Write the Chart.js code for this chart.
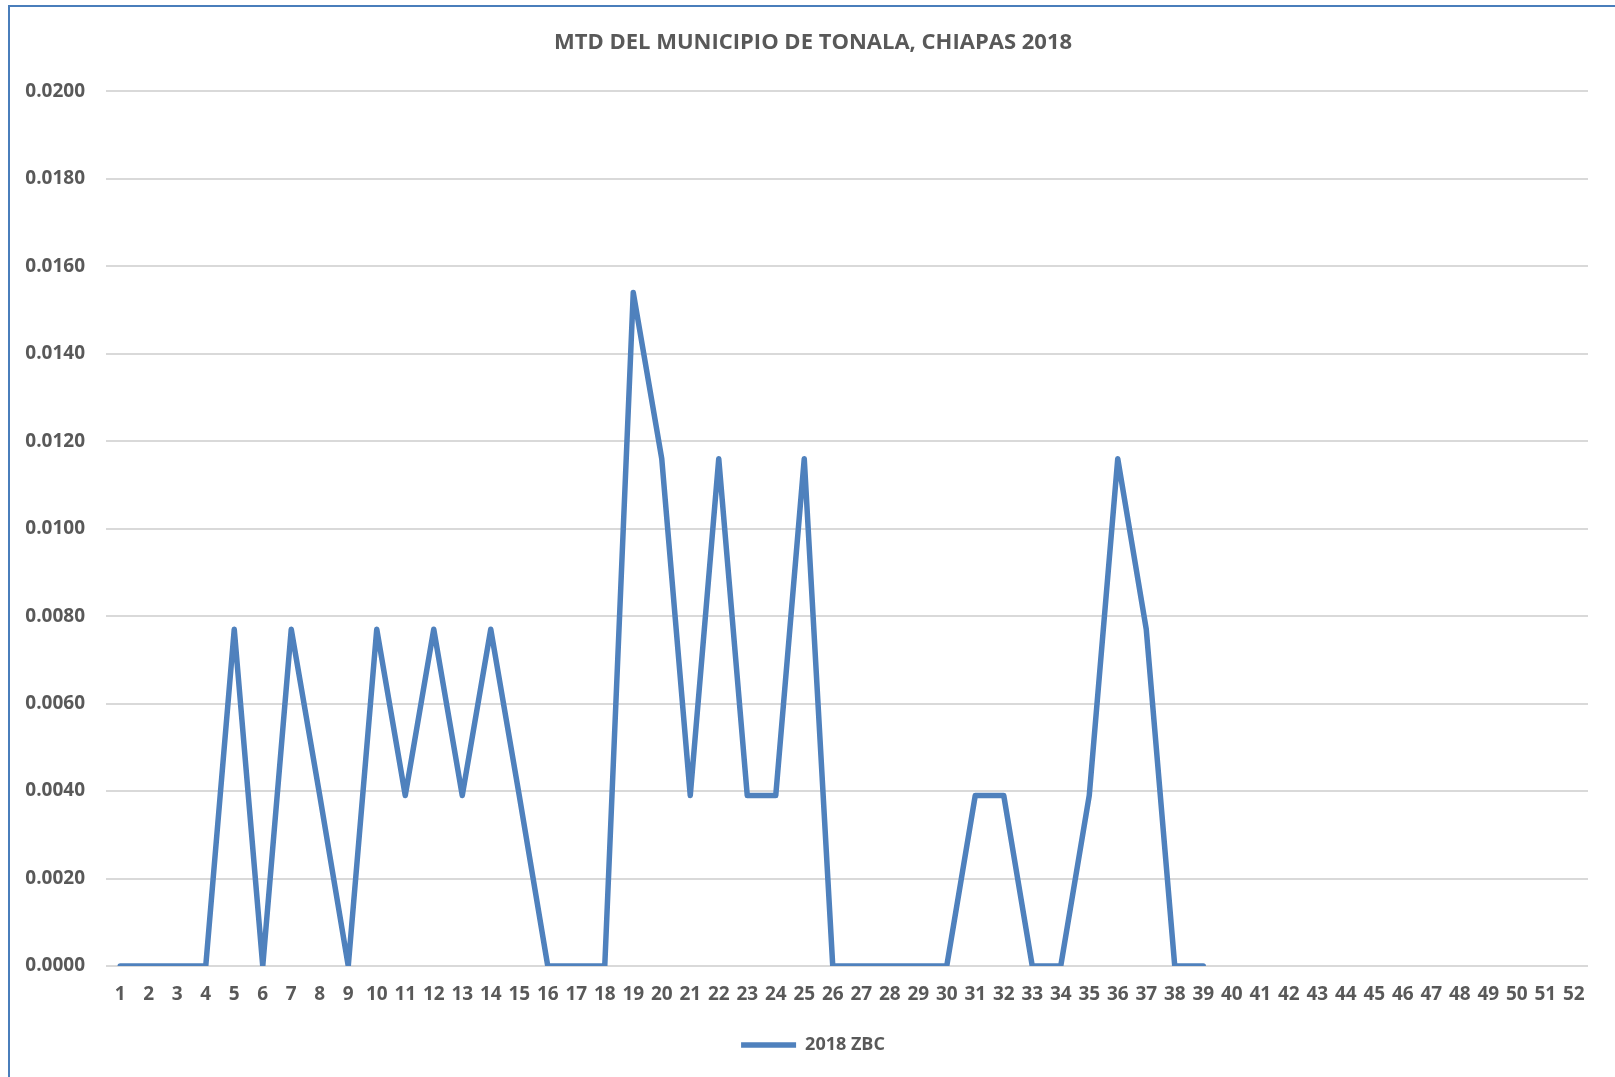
<!DOCTYPE html>
<html>
<head>
<meta charset="utf-8">
<script src="https://cdn.jsdelivr.net/npm/chart.js@4"></script>
<style>
  body { margin: 0; background: #fff; overflow: hidden; }
  #frame { position: absolute; left: 8px; top: 5px; width: 1700px; height: 1200px; border: 2px solid #4a7ebb; }
  #myChart { position: absolute; left: 0; top: 0; }
</style>
</head>
<body>
<div id="frame"></div>
<canvas id="myChart" width="1615" height="1077"></canvas>
<script>
// MTD chart data
const weeks = [];
for (let i = 1; i <= 52; i++) weeks.push(String(i));

const zbc2018 = [0, 0, 0, 0, 0.0077, 0, 0.0077, 0.0039, 0, 0.0077,
                 0.0039, 0.0077, 0.0039, 0.0077, 0.0039, 0, 0, 0, 0.0154, 0.0116,
                 0.0039, 0.0116, 0.0039, 0.0039, 0.0116, 0, 0, 0, 0, 0,
                 0.0039, 0.0039, 0, 0, 0.0039, 0.0116, 0.0077, 0, 0];

const yMin = 0;
const yMax = 0.02;
const yStep = 0.002;

const textColor = '#595959';
const fontFamily = '"Open Sans", Lato, sans-serif';

// nudge title + legend a bit right, like the excel original
const shiftBlocks = {
    id: 'shiftBlocks',
    afterLayout(chart) {
        if (chart.titleBlock) chart.titleBlock.left += 38;
        if (chart.legend) chart.legend.left += 38;
    }
};

var ctx = document.getElementById('myChart').getContext('2d');

var myChart = new Chart(ctx, {
    type: 'line',
    data: {
        labels: weeks,
        datasets: [{
            label: '2018 ZBC',
            data: zbc2018,
            borderColor: '#4f81bd',
            backgroundColor: '#4f81bd',
            borderWidth: 5.5,
            borderCapStyle: 'round',
            borderJoinStyle: 'round',
            pointRadius: 0,
            tension: 0,
            fill: false
        }]
    },
    options: {
        responsive: false,
        animation: false,
        layout: { padding: { left: 0, right: 27, top: 0, bottom: 13 } },
        plugins: {
            title: {
                display: true,
                text: 'MTD DEL MUNICIPIO DE TONALA, CHIAPAS 2018',
                color: textColor,
                font: { family: fontFamily, size: 22, weight: 'bold' },
                padding: { top: 30, bottom: 35 }
            },
            legend: {
                display: true,
                position: 'bottom',
                labels: {
                    color: textColor,
                    font: { family: fontFamily, size: 18, weight: 'bold' },
                    usePointStyle: true,
                    pointStyle: 'line',
                    pointStyleWidth: 55,
                    padding: 10
                }
            },
            tooltip: { enabled: false }
        },
        scales: {
            y: {
                min: yMin,
                max: yMax,
                ticks: {
                    stepSize: yStep,
                    color: textColor,
                    padding: 21,
                    font: { family: fontFamily, size: 19, weight: 'bold' },
                    callback: (v) => v.toFixed(4)
                },
                grid: { color: '#d9d9d9', lineWidth: 2, drawTicks: false },
                border: { display: false },
                afterFit: (scale) => { scale.width = 106; }
            },
            x: {
                offset: true,
                ticks: {
                    color: textColor,
                    padding: 17,
                    maxRotation: 0,
                    autoSkip: false,
                    font: { family: fontFamily, size: 19, weight: 'bold' }
                },
                grid: { display: false, drawTicks: false },
                border: { display: false },
                afterFit: (scale) => { scale.height = 60; }
            }
        }
    },
    plugins: [shiftBlocks]
});
</script>
</body>
</html>
